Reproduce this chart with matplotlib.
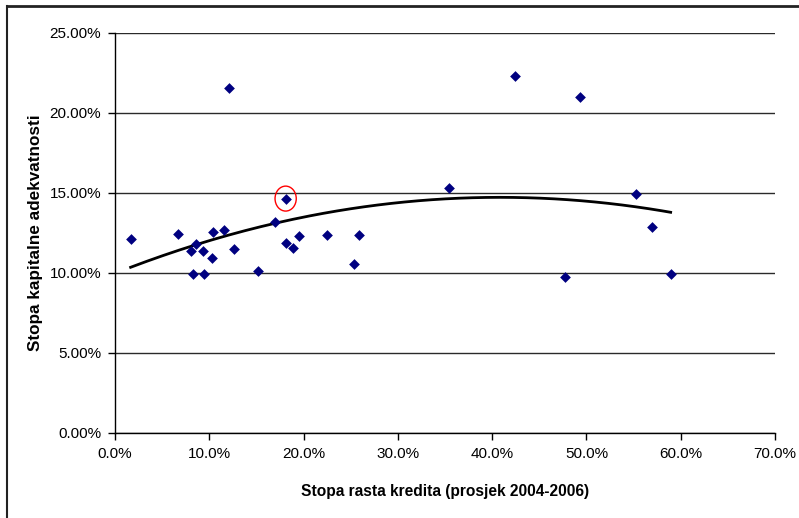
import matplotlib.pyplot as plt
import numpy as np
from matplotlib.patches import Ellipse
from matplotlib.lines import Line2D
from matplotlib.ticker import FuncFormatter

plt.rcParams['font.family'] = ['Liberation Sans', 'DejaVu Sans']

# stopa rasta kredita (%) i stopa kapitalne adekvatnosti (%)
rast = [1.66, 6.65, 8.59, 8.02, 9.37, 8.31, 9.47, 10.25, 10.36, 11.6, 12.62, 15.2,
        16.93, 18.1, 18.1, 18.84, 19.5, 22.45, 25.87, 25.38, 35.42, 12.12,
        42.42, 49.28, 55.25, 56.91, 47.72, 58.93]
adekv = [12.13, 12.42, 11.81, 11.38, 11.38, 9.96, 9.96, 10.96, 12.54, 12.71, 11.48, 10.14,
         13.17, 14.65, 11.9, 11.54, 12.31, 12.4, 12.4, 10.54, 15.33, 21.58,
         22.33, 21.0, 14.96, 12.87, 9.77, 9.96]
oznaceni = 13  # tocka u crvenom krugu

x = np.array(rast) / 100
y = np.array(adekv) / 100

fig = plt.figure(figsize=(7.99, 5.18), dpi=100)
ax = fig.add_axes([0.1439, 0.1641, 0.8261, 0.7722])

ax.scatter(x, y, marker='D', s=30, color='#000080', zorder=3, linewidths=0)

# polinomski trend 2. reda
c = np.polyfit(x, y, 2)
xt = np.linspace(x.min(), x.max(), 200)
ax.plot(xt, np.polyval(c, xt), color='black', lw=2, zorder=2)

ax.add_patch(Ellipse((x[oznaceni], y[oznaceni]), 0.0225, 0.0156, fill=False,
                     edgecolor='red', lw=1, zorder=4))

ax.set_xlim(0, 0.7)
ax.set_ylim(0, 0.25)
ax.set_xticks(np.arange(0, 0.71, 0.1))
ax.set_yticks(np.arange(0, 0.251, 0.05))
ax.xaxis.set_major_formatter(FuncFormatter(lambda v, p: f"{v*100:.1f}%"))
ax.yaxis.set_major_formatter(FuncFormatter(lambda v, p: f"{v*100:.2f}%"))
ax.yaxis.grid(True, color='#2a2a2a', lw=1)
ax.set_axisbelow(True)
for s in ['top', 'right']:
    ax.spines[s].set_visible(False)
for s in ['left', 'bottom']:
    ax.spines[s].set_linewidth(1)
ax.tick_params(direction='out', length=5, width=1, labelsize=11, pad=5)

ax.set_xlabel("Stopa rasta kredita (prosjek 2004-2006)", fontsize=11.2, fontweight='bold', labelpad=17)
ax.set_ylabel("Stopa kapitalne adekvatnosti", fontsize=12.3, fontweight='bold', labelpad=5)

# okvir slike
fig.add_artist(Line2D([7/799, 1], [1 - 6/518, 1 - 6/518], color='#222222', lw=2))
fig.add_artist(Line2D([7/799, 7/799], [0, 1 - 6/518], color='#222222', lw=1.5))

fig.savefig('out.png', dpi=100)
